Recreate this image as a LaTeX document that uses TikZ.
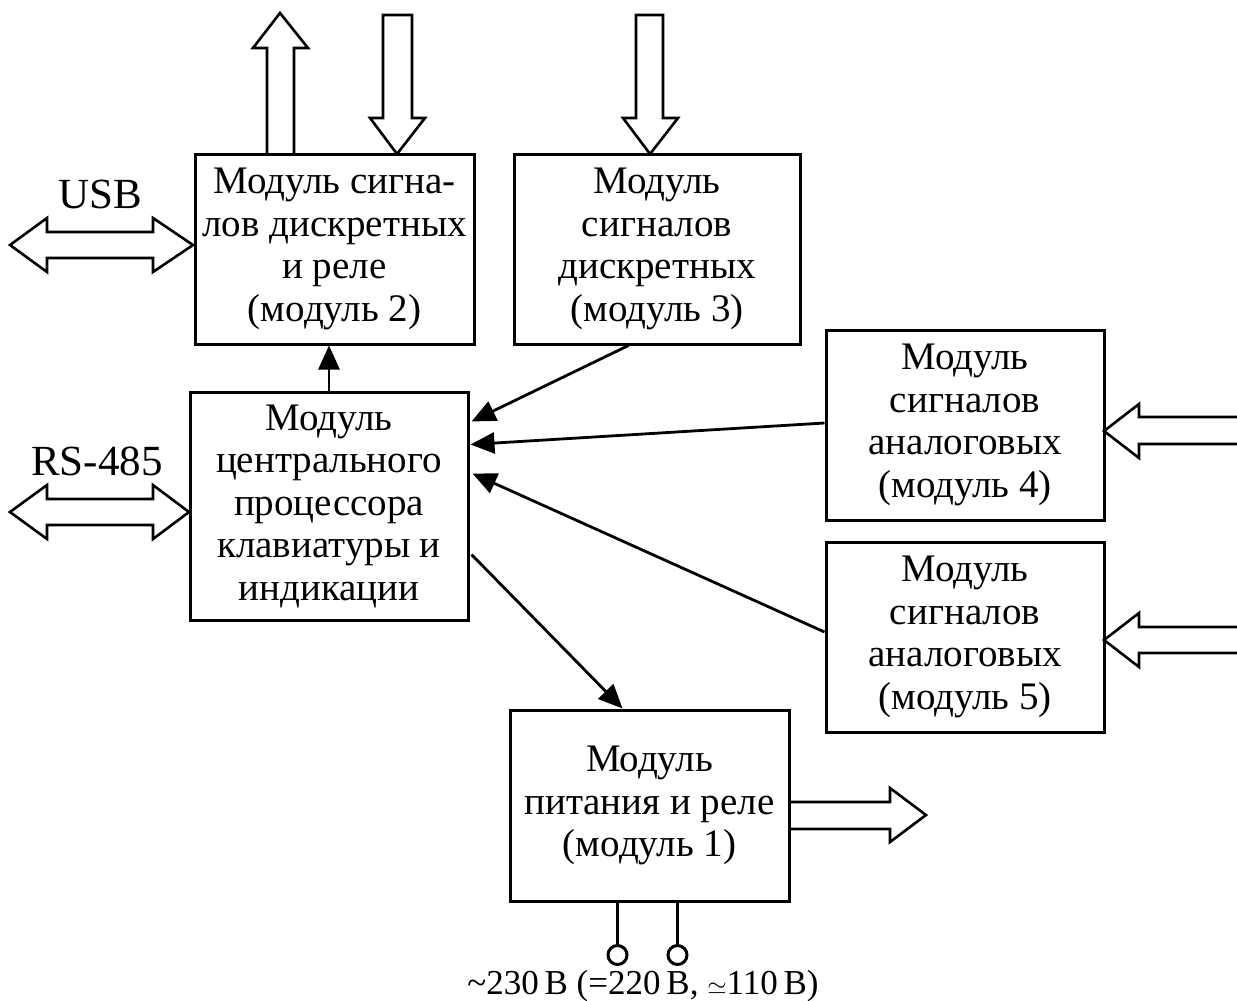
\documentclass[tikz,border=0pt]{standalone}
\usepackage{fontspec}
\setmainfont{Liberation Serif}
\usetikzlibrary{arrows.meta,calc}

\tikzset{
  unit/.style={draw, line width=3pt, inner sep=0pt, align=center,
    font=\fontsize{39}{42.5}\selectfont},
  link/.style={line width=2.8pt, -{Triangle[length=24pt,width=21pt]}},
  fat/.style={draw, line width=2.6pt, line join=miter},
  lead/.style={line width=3pt},
  lbl/.style={font=\fontsize{43}{48}\selectfont, inner sep=0pt, anchor=base},
}

\begin{document}
\begin{tikzpicture}[x=1pt,y=-1pt]
\useasboundingbox (0,0) rectangle (1237,1001);

% module boxes
\node[unit, minimum width=279pt, minimum height=190pt] (m2) at (334.5,249)
  {Модуль сигна-\\лов дискретных\\и реле\\(модуль 2)};
\node[unit, minimum width=286pt, minimum height=190pt] (m3) at (657,249)
  {Модуль\\сигналов\\дискретных\\(модуль 3)};
\node[unit, minimum width=278pt, minimum height=228pt] (cpu) at (329,506)
  {Модуль\\центрального\\процессора\\клавиатуры и\\индикации};
\node[unit, minimum width=278pt, minimum height=190pt] (m4) at (965,425)
  {Модуль\\сигналов\\аналоговых\\(модуль 4)};
\node[unit, minimum width=278pt, minimum height=190pt] (m5) at (965,637)
  {Модуль\\сигналов\\аналоговых\\(модуль 5)};
\node[unit, minimum width=279pt, minimum height=191pt] (m1) at (649.5,805.5)
  {Модуль\\питания и реле\\(модуль 1)};

% data links between modules
\draw[link] (cpu.north) -- (cpu.north |- m2.south);
\draw[link] ($(m3.south west)+(116,0)$) -- ($(cpu.north east)+(2,31)$);
\draw[link] ($(m4.west)+(0,-2)$) -- ($(cpu.north east)+(1,54)$);
\draw[link] ($(m5.west)+(0,-5)$) -- ($(cpu.north east)+(3,83)$);
\draw[link] ($(cpu.north east)+(2,164)$) -- ($(m1.north west)+(114,0)$);

% wide arrows: discrete inputs and outputs
\draw[fat] (267,154) -- (267,48) -- (253,48) -- (280,13) -- (308,48) -- (294,48) -- (294,154);
\draw[fat] (383,15) -- (412,15) -- (412,118) -- (425,118) -- (397,154) -- (370,118) -- (383,118) -- cycle;
\draw[fat] (636,15) -- (663,15) -- (663,118) -- (678,118) -- (650,154) -- (623,118) -- (636,118) -- cycle;

% wide arrows: analog inputs
\draw[fat] (1240,417) -- (1139,417) -- (1139,404) -- (1104,431) -- (1139,458) -- (1139,444) -- (1240,444);
\draw[fat] (1240,627) -- (1139,627) -- (1139,613) -- (1104,640) -- (1139,667) -- (1139,653) -- (1240,653);

% wide arrow: relay outputs
\draw[fat] (789,802) -- (890,802) -- (890,788) -- (926,815) -- (890,842) -- (890,829) -- (789,829);

% interfaces
\draw[fat] (10,245) -- (47,218) -- (47,232) -- (153,232) -- (153,218) -- (193,245)
  -- (153,272) -- (153,258) -- (47,258) -- (47,272) -- cycle;
\draw[fat] (10,512) -- (47,485) -- (47,499) -- (153,499) -- (153,485) -- (189,512)
  -- (153,539) -- (153,525) -- (47,525) -- (47,539) -- cycle;
\node[lbl] (usb) at (100,208) {USB};
\node[lbl] (rs) at (97,475) {RS-485};

% mains supply terminals
\coordinate (ta) at ($(m1.south)+(-32,43)$);
\coordinate (tb) at ($(m1.south)+(28,43)$);
\draw[lead] (m1.south -| ta) -- (ta);
\draw[lead] (m1.south -| tb) -- (tb);
\draw[lead] ($(ta)+(0,9.5)$) circle[radius=9.5pt];
\draw[lead] ($(tb)+(0,9.5)$) circle[radius=9.5pt];
\node[lbl, font=\fontsize{35}{40}\selectfont] (mains) at (643,994)
  {\textasciitilde230\,В (=220\,В, $\simeq$110\,В)};
\end{tikzpicture}
\end{document}
